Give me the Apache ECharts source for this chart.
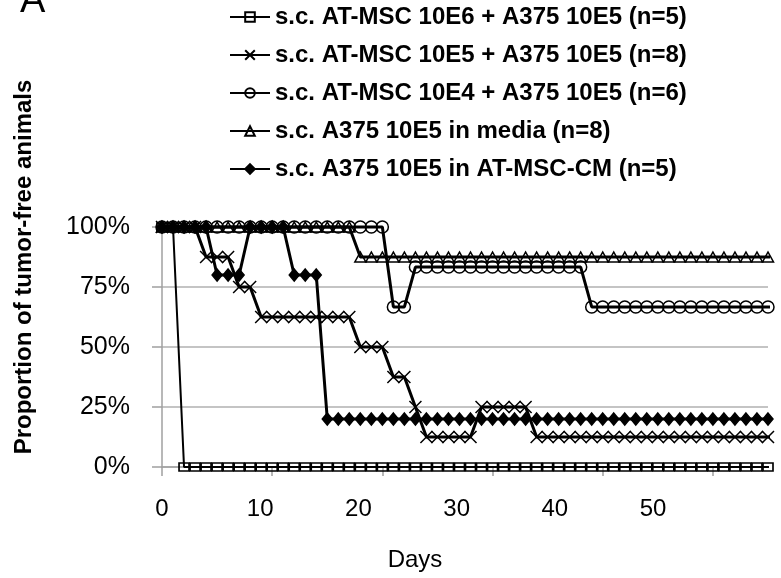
<!DOCTYPE html>
<html>
<head>
<meta charset="utf-8">
<script src="https://cdn.jsdelivr.net/npm/echarts@6/dist/echarts.min.js"></script>
<style>
html,body{margin:0;padding:0;background:#fff;}
#chart{width:781px;height:578px;}
</style>
</head>
<body>
<div id="chart"></div>
<script>
// Days of observation (56 and 57 only continue the lines past the cropped edge)
var days = [0,1,2,3,4,5,6,7,8,9,10,11,12,13,14,15,16,17,18,19,20,21,22,23,24,25,26,27,28,29,30,31,32,33,34,35,36,37,38,39,40,41,42,43,44,45,46,47,48,49,50,51,52,53,54,55,56,57];
var seriesNames = [
  's.c. AT-MSC 10E6 + A375 10E5 (n=5)',
  's.c. AT-MSC 10E5 + A375 10E5 (n=8)',
  's.c. AT-MSC 10E4 + A375 10E5 (n=6)',
  's.c. A375 10E5 in media (n=8)',
  's.c. A375 10E5 in AT-MSC-CM (n=5)'
];
var msc10e6 = [1,1,0,0,0,0,0,0,0,0,0,0,0,0,0,0,0,0,0,0,0,0,0,0,0,0,0,0,0,0,0,0,0,0,0,0,0,0,0,0,0,0,0,0,0,0,0,0,0,0,0,0,0,0,0,0,0,0];
var msc10e5 = [1,1,1,1,0.875,0.875,0.875,0.75,0.75,0.625,0.625,0.625,0.625,0.625,0.625,0.625,0.625,0.625,0.5,0.5,0.5,0.375,0.375,0.25,0.125,0.125,0.125,0.125,0.125,0.25,0.25,0.25,0.25,0.25,0.125,0.125,0.125,0.125,0.125,0.125,0.125,0.125,0.125,0.125,0.125,0.125,0.125,0.125,0.125,0.125,0.125,0.125,0.125,0.125,0.125,0.125,0.125,0.125];
var msc10e4 = [1,1,1,1,1,1,1,1,1,1,1,1,1,1,1,1,1,1,1,1,1,0.667,0.667,0.833,0.833,0.833,0.833,0.833,0.833,0.833,0.833,0.833,0.833,0.833,0.833,0.833,0.833,0.833,0.833,0.667,0.667,0.667,0.667,0.667,0.667,0.667,0.667,0.667,0.667,0.667,0.667,0.667,0.667,0.667,0.667,0.667,0.667,0.333];
var media = [1,1,1,1,1,1,1,1,1,1,1,1,1,1,1,1,1,1,0.875,0.875,0.875,0.875,0.875,0.875,0.875,0.875,0.875,0.875,0.875,0.875,0.875,0.875,0.875,0.875,0.875,0.875,0.875,0.875,0.875,0.875,0.875,0.875,0.875,0.875,0.875,0.875,0.875,0.875,0.875,0.875,0.875,0.875,0.875,0.875,0.875,0.875,0.875,0.875];
var conditioned = [1,1,1,1,1,0.8,0.8,0.8,1,1,1,1,0.8,0.8,0.8,0.2,0.2,0.2,0.2,0.2,0.2,0.2,0.2,0.2,0.2,0.2,0.2,0.2,0.2,0.2,0.2,0.2,0.2,0.2,0.2,0.2,0.2,0.2,0.2,0.2,0.2,0.2,0.2,0.2,0.2,0.2,0.2,0.2,0.2,0.2,0.2,0.2,0.2,0.2,0.2,0.2,0.2,0.2];
var xTickLabels = [0,10,20,30,40,50];
var lastMarkedDay = 55;

function pts(vals){
  return days.map(function(d,i){
    var item = {value:[d, vals[i]]};
    if (d > lastMarkedDay) item.symbol = 'none';
    return item;
  });
}
var crossPath = 'path://M0,0L10,10M10,0L0,10M0,0Z';
var styles = [
  {symbol:'rect', size:[10,8], fill:'rgba(0,0,0,0)', width:2},
  {symbol:crossPath, size:12, fill:'rgba(0,0,0,0)', width:3},
  {symbol:'circle', size:12, fill:'rgba(0,0,0,0)', width:3},
  {symbol:'triangle', size:[11,10], fill:'rgba(0,0,0,0)', width:3},
  {symbol:'diamond', size:[10,12], fill:'#000', width:3}
];
var allVals = [msc10e6, msc10e5, msc10e4, media, conditioned];
var series = allVals.map(function(v,k){
  var s = styles[k];
  return {
    name: seriesNames[k], type:'line', xAxisIndex:0, data: pts(v),
    symbol: s.symbol, symbolSize: s.size, showAllSymbol:true, clip:false,
    lineStyle:{color:'#000', width:s.width},
    itemStyle:{color:s.fill, borderColor:'#000', borderWidth:1.5},
    animation:false
  };
});

var font = 'Liberation Sans, Arial';
var chart = echarts.init(document.getElementById('chart'), null, {renderer:'canvas'});
chart.setOption({
  backgroundColor:'#fff',
  animation:false,
  grid:{left:162, right:13, top:227, bottom:111, containLabel:false},
  legend:{
    orient:'vertical', left:224, top:0, itemGap:14, itemWidth:40, itemHeight:12,
    data: seriesNames,
    textStyle:{fontFamily:font, fontWeight:'bold', fontSize:24, color:'#000'},
    selectedMode:false
  },
  xAxis:[{
    type:'value', min:0, max:55, interval:10,
    axisLine:{show:true, lineStyle:{color:'#a0a0a0', width:1.5}},
    axisTick:{show:true, length:9, customValues:xTickLabels, lineStyle:{color:'#a0a0a0', width:1.5}},
    axisLabel:{show:false},
    splitLine:{show:false}
  },{
    // tick labels as printed in the figure (their spacing differs from the tick marks)
    type:'value', min:0, max:61.7, interval:10, position:'bottom',
    axisLine:{show:false}, axisTick:{show:false}, splitLine:{show:false},
    axisLabel:{fontFamily:font, fontSize:24, color:'#000', margin:30,
      customValues: xTickLabels}
  }],
  yAxis:{
    type:'value', min:0, max:1, interval:0.25,
    axisLine:{show:true, lineStyle:{color:'#a0a0a0', width:1.5}},
    axisTick:{show:true, length:10, lineStyle:{color:'#a0a0a0', width:1.5}},
    axisLabel:{fontFamily:font, fontSize:25, color:'#000', margin:32,
      formatter:function(v){return Math.round(v*100)+'%';}},
    splitLine:{show:true, showMaxLine:false, lineStyle:{color:'#b0b0b0', width:1.5}}
  },
  graphic:[
    {type:'text', left:20, top:-17, style:{text:'A', fontFamily:font, fontSize:38, fill:'#000'}},
    {type:'text', x:415, y:560, style:{text:'Days', fontFamily:font, fontSize:24, fill:'#000', align:'center', verticalAlign:'middle'}},
    {type:'text', x:24, y:267, rotation:Math.PI/2,
      style:{text:'Proportion of tumor-free animals', fontFamily:font, fontWeight:'bold', fontSize:24, fill:'#000', align:'center', verticalAlign:'middle'}}
  ],
  series: series
});
</script>
</body>
</html>
